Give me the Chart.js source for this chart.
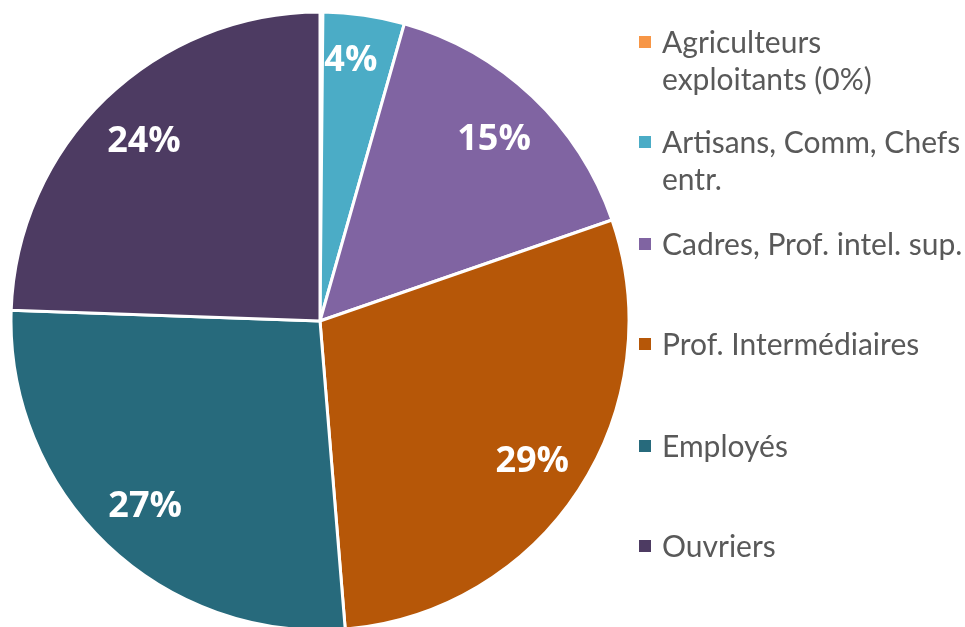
<!DOCTYPE html>
<html>
<head>
<meta charset="utf-8">
<script src="https://cdn.jsdelivr.net/npm/chart.js"></script>
<style>
  body { margin: 0; background: #fff; }
  #wrap { position: relative; width: 965px; height: 627px; overflow: hidden; }
  #pie { position: absolute; left: 0; top: 0; }
  #legend { position: absolute; left: 639px; top: 0; font-family: Lato, "Open Sans", sans-serif; font-size: 30px; color: #595959; }
  .item { position: absolute; left: 0; white-space: nowrap; line-height: 37px; }
  .box { position: absolute; left: 0; top: 13px; width: 12px; height: 12px; }
  .text { position: absolute; left: 23px; top: 0; }
</style>
</head>
<body>
<div id="wrap">
  <canvas id="pie" width="965" height="627"></canvas>
  <div id="legend"></div>
</div>
<script>
    // Chart data (shares in % of total)
    const categories = [
        ['Agriculteurs', 'exploitants (0%)'],
        ['Artisans, Comm, Chefs', 'entr.'],
        'Cadres, Prof. intel. sup.',
        'Prof. Intermédiaires',
        'Employés',
        'Ouvriers'
    ];
    const shares = [0.15, 4.25, 15.3, 29.0, 26.85, 24.45];

    // Styles
    const sliceColors = ['#F79646', '#4BACC6', '#8064A2', '#B65708', '#276A7C', '#4D3B62'];
    const legendTops = [23, 123, 225, 325, 427, 527];

    // Draw the white % labels inside the slices
    const sliceLabels = {
        id: 'sliceLabels',
        afterDatasetsDraw(chart) {
            const ctx = chart.ctx;
            const meta = chart.getDatasetMeta(0);
            ctx.save();
            ctx.font = 'bold 36px "Open Sans", sans-serif';
            ctx.fillStyle = '#ffffff';
            ctx.textAlign = 'center';
            ctx.textBaseline = 'alphabetic';
            meta.data.forEach((arc, i) => {
                const pct = Math.round(shares[i]);
                if (pct < 1) return;
                const p = arc.getProps(['x', 'y', 'startAngle', 'endAngle', 'outerRadius'], true);
                const mid = (p.startAngle + p.endAngle) / 2;
                const span = p.endAngle - p.startAngle;
                // narrow slices get their label pushed further out
                const k = span < 0.5 ? 0.86 : 0.82;
                let cx = p.x + Math.cos(mid) * p.outerRadius * k;
                const cy = p.y + Math.sin(mid) * p.outerRadius * k;
                if (span < 0.5) cx -= 7;
                const text = pct + '%';
                const m = ctx.measureText(text);
                const ty = cy + (m.actualBoundingBoxAscent - m.actualBoundingBoxDescent) / 2;
                ctx.fillText(text, cx, ty);
            });
            ctx.restore();
        }
    };

    // Legend on the right
    function buildLegend() {
        const legend = document.getElementById('legend');
        categories.forEach((label, i) => {
            const item = document.createElement('div');
            item.className = 'item';
            item.style.top = legendTops[i] + 'px';

            const box = document.createElement('div');
            box.className = 'box';
            box.style.background = sliceColors[i];

            const text = document.createElement('div');
            text.className = 'text';
            const lines = Array.isArray(label) ? label : [label];
            lines.forEach(line => {
                const l = document.createElement('div');
                l.textContent = line;
                text.appendChild(l);
            });

            item.appendChild(box);
            item.appendChild(text);
            legend.appendChild(item);
        });
    }

    function main() {
        buildLegend();
        const canvas = document.getElementById('pie');
        new Chart(canvas.getContext('2d'), {
            type: 'pie',
            data: {
                labels: categories,
                datasets: [{
                    data: shares,
                    backgroundColor: sliceColors,
                    borderColor: '#ffffff',
                    borderWidth: 3,
                    radius: 309,
                    clip: false
                }]
            },
            options: {
                responsive: false,
                animation: false,
                layout: { padding: { left: 0, right: 325, top: 15, bottom: 0 } },
                plugins: {
                    legend: { display: false },
                    tooltip: { enabled: false }
                }
            },
            plugins: [sliceLabels]
        });
    }

    main();
</script>
</body>
</html>
